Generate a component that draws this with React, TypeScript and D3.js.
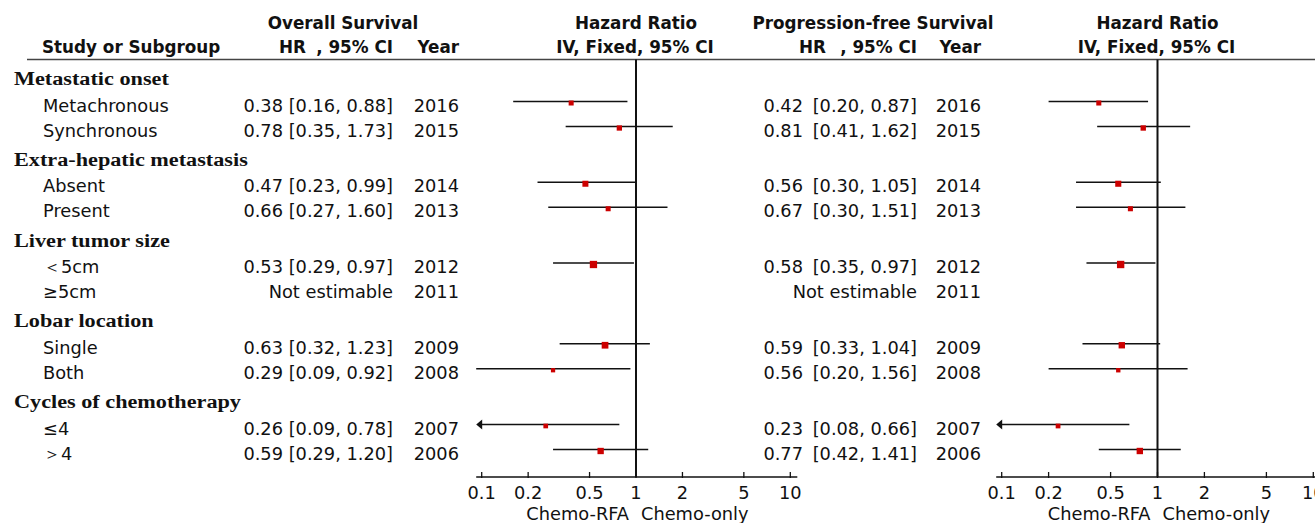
import React from "react";
import * as d3 from "d3";

// subgroup structure
const groups = [
  "Metastatic onset",
  "Extra-hepatic metastasis",
  "Liver tumor size",
  "Lobar location",
  "Cycles of chemotherapy",
];
const subgroups = [
  ["Metachronous", "Synchronous"],
  ["Absent", "Present"],
  ["＜5cm", "≥5cm"],
  ["Single", "Both"],
  ["≤4", "＞4"],
];
const years = [2016, 2015, 2014, 2013, 2012, 2011, 2009, 2008, 2007, 2006];

// overall survival
const osHR = [0.38, 0.78, 0.47, 0.66, 0.53, null, 0.63, 0.29, 0.26, 0.59];
const osLower = [0.16, 0.35, 0.23, 0.27, 0.29, null, 0.32, 0.09, 0.09, 0.29];
const osUpper = [0.88, 1.73, 0.99, 1.6, 0.97, null, 1.23, 0.92, 0.78, 1.2];
const osWeight = [8.6, 9.6, 12.3, 8.6, 18.2, 0, 15.4, 6.2, 7.5, 13.7];
const osArrow = ["≤4"];

// progression-free survival
const pfsHR = [0.42, 0.81, 0.56, 0.67, 0.58, null, 0.59, 0.56, 0.23, 0.77];
const pfsLower = [0.2, 0.41, 0.3, 0.3, 0.35, null, 0.33, 0.2, 0.08, 0.42];
const pfsUpper = [0.87, 1.62, 1.05, 1.51, 0.97, null, 1.04, 1.56, 0.66, 1.41];
const pfsWeight = [8.7, 9.8, 12.6, 8.7, 18.5, 0, 13.9, 6.5, 7.7, 13.9];
const pfsArrow = ["≤4"];

const tickValues = [0.1, 0.2, 0.5, 1, 2, 5, 10];
const favoursLeft = "Chemo-RFA";
const favoursRight = "Chemo-only";

const W = 1315;
const H = 523;
const SANS = "'DejaVu Sans', sans-serif";
const SERIF = "'Liberation Serif', 'Times New Roman', serif";
const RED = "#cc0000";
const INK = "#111";
const FS = 17.8; // regular text
const FB = 16.8; // bold headers

const fmt = d3.format(".2f");

// flatten rows with a position (group step slightly larger than 3 rows)
const rows = subgroups.flatMap((items, g) =>
  items.map((label, s) => ({ label, g, pos: g * 3.23 + s }))
);

const y = d3.scaleLinear().domain([0, 1]).range([101.5, 126.5]);
const headerLineY = 59.5;
const axisY = y(rows[rows.length - 1].pos + 1.1);

const wScale = d3.scaleSqrt().domain([0, 18.2]).range([0, 7.3]);

type Panel = {
  x: d3.ScaleLogarithmic<number, number>;
  hr: (number | null)[];
  lo: (number | null)[];
  hi: (number | null)[];
  w: number[];
  arrow: string[];
  hrEnd: number;
  ciEnd: number;
  yearEnd: number;
  title: string;
  titleX: number;
  hrX: number;
};

const panels: Panel[] = [
  {
    x: d3.scaleLog().domain([0.1, 10]).range([481.7, 790.3]),
    hr: osHR,
    lo: osLower,
    hi: osUpper,
    w: osWeight,
    arrow: osArrow,
    hrEnd: 283,
    ciEnd: 393,
    yearEnd: 459,
    title: "Overall Survival",
    titleX: 343,
    hrX: 279,
  },
  {
    x: d3.scaleLog().domain([0.1, 10]).range([1001.7, 1313.3]),
    hr: pfsHR,
    lo: pfsLower,
    hi: pfsUpper,
    w: pfsWeight,
    arrow: pfsArrow,
    hrEnd: 803,
    ciEnd: 917,
    yearEnd: 981,
    title: "Progression-free Survival",
    titleX: 873,
    hrX: 799,
  },
];

const ForestPanel = ({ p }: { p: Panel }) => {
  const x = p.x;
  const [r0, r1] = x.range();
  const xMin = r0 - 5.5;
  const xMax = r1 + 7;
  const cx = x(1);
  const bold = { fontFamily: SANS, fontWeight: "bold", fontSize: FB, fill: INK } as const;
  const tx = { fontFamily: SANS, fontSize: FS, fill: INK } as const;
  return (
    <g>
      {/* header */}
      <text x={p.titleX} y={29} textAnchor="middle" {...bold}>{p.title}</text>
      <text x={p.hrX} y={53} {...bold}>HR</text>
      <text x={p.ciEnd} y={53} textAnchor="end" {...bold}>, 95% CI</text>
      <text x={p.yearEnd} y={53} textAnchor="end" {...bold}>Year</text>
      <text x={cx} y={29} textAnchor="middle" {...bold}>Hazard Ratio</text>
      <text x={cx - 1} y={53} textAnchor="middle" {...bold}>IV, Fixed, 95% CI</text>

      {/* values and marks */}
      {rows.map((r, i) => {
        const ry = y(r.pos);
        const hr = p.hr[i];
        const lo = p.lo[i];
        const hi = p.hi[i];
        if (hr == null || lo == null || hi == null) {
          return (
            <g key={i}>
              <text x={p.ciEnd} y={ry + 10} textAnchor="end" {...tx}>Not estimable</text>
              <text x={p.yearEnd} y={ry + 10} textAnchor="end" {...tx}>{years[i]}</text>
            </g>
          );
        }
        const arrow = p.arrow.includes(r.label);
        const x0 = Math.max(x(lo), xMin);
        const x1 = Math.min(x(hi), xMax);
        const s = wScale(p.w[i]);
        return (
          <g key={i}>
            <text x={p.hrEnd} y={ry + 10} textAnchor="end" {...tx}>{fmt(hr)}</text>
            <text x={p.ciEnd} y={ry + 10} textAnchor="end" {...tx}>
              [{fmt(lo)}, {fmt(hi)}]
            </text>
            <text x={p.yearEnd} y={ry + 10} textAnchor="end" {...tx}>{years[i]}</text>
            <line x1={arrow ? xMin + 4 : x0} x2={x1} y1={ry} y2={ry} stroke={INK} strokeWidth={1.6} />
            {arrow && (
              <path d={`M${xMin},${ry} L${xMin + 6},${ry - 5} L${xMin + 6},${ry + 5} Z`} fill={INK} />
            )}
            <rect x={x(hr) - s / 2} y={ry + 1.5 - s / 2} width={s} height={s} fill={RED} />
          </g>
        );
      })}

      {/* null line */}
      <line x1={cx} x2={cx} y1={headerLineY} y2={axisY} stroke={INK} strokeWidth={2} />

      {/* axis */}
      <line x1={xMin} x2={xMax} y1={axisY} y2={axisY} stroke={INK} strokeWidth={1.6} />
      {tickValues.map((t) => (
        <g key={t}>
          <line x1={x(t)} x2={x(t)} y1={axisY - 5} y2={axisY + 1} stroke={INK} strokeWidth={1.3} />
          <text x={x(t)} y={axisY + 22} textAnchor="middle" {...tx}>{t}</text>
        </g>
      ))}
      <text x={cx - 7} y={axisY + 43} textAnchor="end" {...tx}>{favoursLeft}</text>
      <text x={cx + 5} y={axisY + 43} {...tx}>{favoursRight}</text>
    </g>
  );
};

export default function App() {
  return (
    <svg
      width={W}
      height={H}
      viewBox={`0 0 ${W} ${H}`}
      style={{ position: "absolute", left: 0, top: 0, background: "#fff" }}
    >
      <rect width={W} height={H} fill="#fff" />
      <text x={42} y={53} fontFamily={SANS} fontWeight="bold" fontSize={FB} fill={INK}>
        Study or Subgroup
      </text>
      <line x1={27} x2={W} y1={headerLineY} y2={headerLineY} stroke="#444" strokeWidth={1.4} />

      {groups.map((g, gi) => (
        <text
          key={g}
          transform={`translate(14,${y(gi * 3.23) - 16.5}) scale(1.14,1)`}
          fontFamily={SERIF}
          fontWeight="bold"
          fontSize={19.5}
          fill={INK}
        >
          {g}
        </text>
      ))}
      {rows.map((r) => (
        <text key={r.label} x={43} y={y(r.pos) + 10} fontFamily={SANS} fontSize={FS} fill={INK}>
          {r.label}
        </text>
      ))}

      {panels.map((p, i) => (
        <ForestPanel key={i} p={p} />
      ))}
    </svg>
  );
}
